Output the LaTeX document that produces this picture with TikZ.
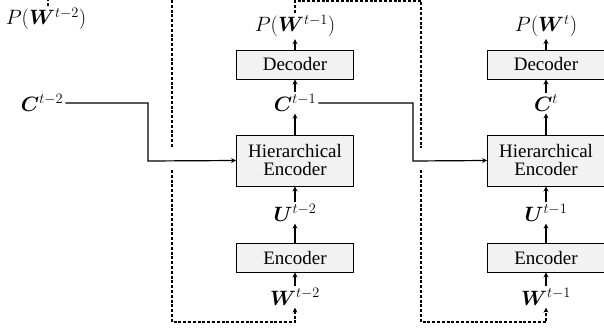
\documentclass[tikz,border=0pt]{standalone}
\usepackage{fontspec}
\setmainfont{Liberation Serif}
\usepackage{amsmath}
\usepackage{bm}
\usetikzlibrary{arrows.meta, calc}

\tikzset{
    blk/.style={draw, fill=gray!10, line width=0.9pt, minimum width=117pt, inner sep=0pt, align=center},
    lbl/.style={inner sep=2pt, font=\fontsize{22}{24}\selectfont},
    arr/.style={->, line width=1.2pt},
    dsh/.style={line width=1.2pt, dash pattern=on 3pt off 1.8pt},
}

\begin{document}
\begin{tikzpicture}[x=1pt, y=-1pt, >=stealth, font=\fontsize{19}{21}\selectfont]
    \useasboundingbox (0,0) rectangle (604,331);

    % Step t-2 (left, partly cut)
    \node[lbl] (p0) at (46,19) {$P(\bm{W}^{t-2})$};
    \node[lbl] (c0) at (42,103) {$\bm{C}^{t-2}$};

    % Step t-1 (middle)
    \node[lbl] (p1) at (295,26) {$P(\bm{W}^{t-1})$};
    \node[blk, minimum height=29pt] (dec1) at (295,64.5) {Decoder};
    \node[lbl] (c1) at (295,103) {$\bm{C}^{t-1}$};
    \node[blk, minimum height=51pt] (hier1) at (295,160.5) {Hierarchical\\[-3pt]Encoder};
    \node[lbl] (u1) at (295,213) {$\bm{U}^{t-2}$};
    \node[blk, minimum height=29pt] (enc1) at (295,257.5) {Encoder};
    \node[lbl] (w1) at (295,297) {$\bm{W}^{t-2}$};

    % Step t (right)
    \node[lbl] (p2) at (546,26) {$P(\bm{W}^{t})$};
    \node[blk, minimum height=29pt] (dec2) at (546,64.5) {Decoder};
    \node[lbl] (c2) at (546,103) {$\bm{C}^{t}$};
    \node[blk, minimum height=51pt] (hier2) at (546,160.5) {Hierarchical\\[-3pt]Encoder};
    \node[lbl] (u2) at (546,213) {$\bm{U}^{t-1}$};
    \node[blk, minimum height=29pt] (enc2) at (546,257.5) {Encoder};
    \node[lbl] (w2) at (546,297) {$\bm{W}^{t-1}$};

    % Vertical flow
    \foreach \s in {1,2} {
        \draw[arr] (w\s) -- (enc\s);
        \draw[arr] (enc\s) -- (u\s);
        \draw[arr] (u\s) -- (hier\s);
        \draw[arr] (hier\s) -- (c\s);
        \draw[arr] (c\s) -- (dec\s);
        \draw[arr] (dec\s) -- (p\s);
    }

    % Context passed to the next step
    \coordinate (j0) at (148,161);
    \coordinate (j1) at (413,161);
    \draw[arr] (c0.east) -| (j0) -- (hier1.west);
    \draw[arr] (c1.east) -| (j1) -- (hier2.west);

    % Output fed back as next input (dashed)
    \coordinate (top0) at (48,0);
    \coordinate (top1) at (421,1);
    \draw[dsh] (p0.north -| top0) -- (top0);
    \draw[dsh] (172,0) -- (172,148);
    \draw[dsh, ->] (172,170) |- (233,322) -| (w1.south);
    \draw[dsh] (p1.north) |- (top1) -- (421,148);
    \draw[dsh, ->] (421,170) |- (484,322) -| (w2.south);
\end{tikzpicture}
\end{document}
